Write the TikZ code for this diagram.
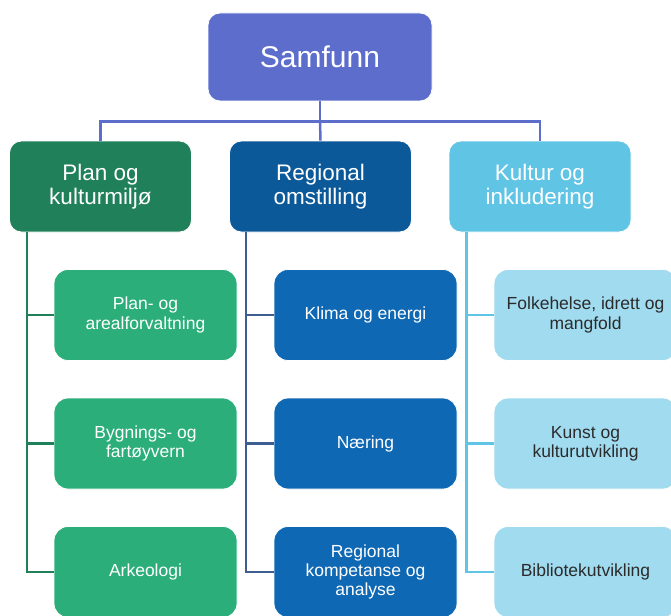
\documentclass[tikz,border=0pt]{standalone}
\usepackage{fontspec}
\setmainfont{Liberation Sans}
\definecolor{topfill}{HTML}{5C6DCC}
\definecolor{planfill}{HTML}{20805A}
\definecolor{regfill}{HTML}{0C5999}
\definecolor{kulfill}{HTML}{60C4E5}
\definecolor{planchild}{HTML}{2BAE79}
\definecolor{regchild}{HTML}{0F68B4}
\definecolor{kulchild}{HTML}{A1DBEF}
\definecolor{regline}{HTML}{3E5D91}
\definecolor{darktext}{HTML}{2B2B2B}
\begin{document}
\begin{tikzpicture}[x=1pt,y=-1pt,
  box/.style={rectangle, rounded corners=12pt, draw=white, line width=0.8pt,
    align=center, inner sep=2pt},
  topbox/.style={box, fill=topfill, text=white, minimum width=224pt, minimum height=88pt,
    font=\fontsize{30}{34}\selectfont},
  headbox/.style={box, minimum width=182pt, minimum height=91pt,
    font=\fontsize{22.5}{24}\selectfont},
  childbox/.style={box, rounded corners=14pt, minimum width=183pt, minimum height=91pt,
    font=\fontsize{17.5}{19.2}\selectfont},
  link/.style={line width=2.5pt}
]
\useasboundingbox (0,0) rectangle (671,615);
\begin{scope}
\clip (0,0) rectangle (671,615);

% connectors from the top box to the three areas
\node[topbox] (sam) at (320,57) {Samfunn};
\node[headbox, fill=planfill, text=white] (plan) at (100.5,186.5) {Plan og\\kulturmiljø};
\node[headbox, fill=regfill, text=white] (reg) at (320.5,186.5) {Regional\\omstilling};
\node[headbox, fill=kulfill, text=white] (kul) at (540,186.5) {Kultur og\\inkludering};

\draw[link, topfill] (sam.south) -- ++(0,20) coordinate (bus);
\draw[link, topfill] (bus) -| (plan.north);
\draw[link, topfill] (bus) -| (kul.north);
\draw[link, topfill] (bus) -- (reg.north);

% sections under each area
\node[childbox, fill=planchild, text=white] (p1) at (145.5,315) {Plan- og\\arealforvaltning};
\node[childbox, fill=planchild, text=white] (p2) at (145.5,443.5) {Bygnings- og\\fartøyvern};
\node[childbox, fill=planchild, text=white] (p3) at (145.5,572) {Arkeologi};

\node[childbox, fill=regchild, text=white] (r1) at (365.5,315) {Klima og energi};
\node[childbox, fill=regchild, text=white] (r2) at (365.5,443.5) {Næring};
\node[childbox, fill=regchild, text=white] (r3) at (365.5,572) {Regional\\kompetanse og\\analyse};

\node[childbox, fill=kulchild, text=darktext] (k1) at (585.5,315) {Folkehelse, idrett og\\mangfold};
\node[childbox, fill=kulchild, text=darktext] (k2) at (585.5,443.5) {Kunst og\\kulturutvikling};
\node[childbox, fill=kulchild, text=darktext] (k3) at (585.5,572) {Bibliotekutvikling};

% connectors from each area to its sections
\foreach \c in {p1,p2,p3}
  \draw[link, planfill] ([xshift=18pt]plan.south west) |- (\c.west);
\foreach \c in {r1,r2,r3}
  \draw[link, regline] ([xshift=17pt]reg.south west) |- (\c.west);
\foreach \c in {k1,k2,k3}
  \draw[link, kulfill] ([xshift=18pt]kul.south west) |- (\c.west);
\end{scope}
\end{tikzpicture}
\end{document}
